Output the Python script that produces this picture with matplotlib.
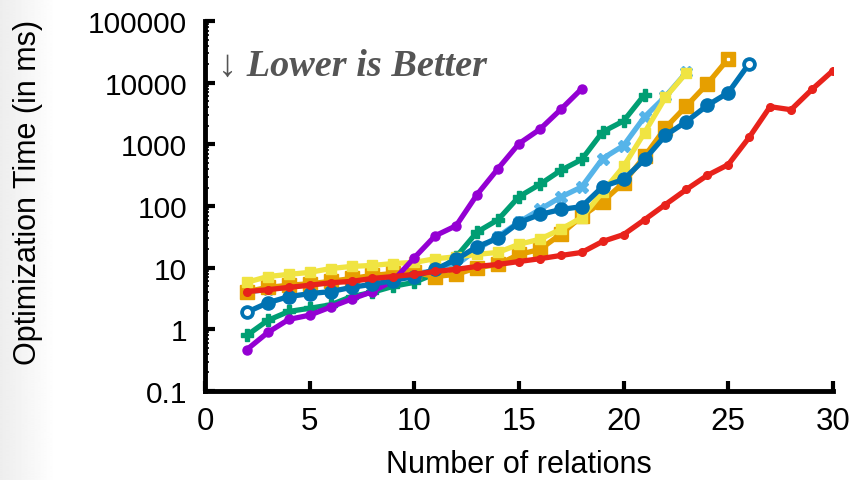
import matplotlib.pyplot as plt
from matplotlib.ticker import LogLocator, NullFormatter, FixedLocator
import numpy as np

# ---------------- DATA ----------------
n_purple = list(range(2, 19))
t_purple = [0.47, 0.89, 1.45, 1.7, 2.3, 3.1, 4.1, 6.2, 14.5, 33, 48, 154, 405, 1030, 1760, 3700, 8000]

n_green = list(range(2, 22))
t_green = [0.8, 1.4, 1.95, 2.2, 2.5, 3.4, 4.0, 5.0, 5.8, 8.0, 15, 38, 60, 142, 225, 380, 570, 1600, 2400, 6400]

n_lblue = list(range(2, 24))
t_lblue = [4.0, 4.5, 4.9, 5.3, 5.8, 6.3, 6.9, 7.5, 8.0, 9.0, 11, 20, 32, 55, 88, 140, 205, 590, 960, 2800, 6000, 14700]

n_blue = list(range(2, 27))
t_blue = [1.9, 2.7, 3.4, 3.8, 4.1, 4.8, 5.4, 6.2, 7.2, 9.4, 13.6, 22, 30, 54, 73, 88, 98,
          207, 270, 570, 1400, 2350, 4300, 6900, 20500]

n_orange = list(range(2, 26))
t_orange = [4.1, 4.8, 5.2, 5.5, 6.0, 6.7, 7.5, 8.1, 8.4, 7.2, 7.8, 10, 11.3, 16.4, 19.8, 35, 68,
            118, 240, 640, 1860, 4200, 9600, 24500]

n_yellow = list(range(2, 24))
t_yellow = [5.8, 7.2, 7.8, 8.4, 9.7, 10.5, 10.9, 11.7, 12.2, 14, 15, 16.5, 17.7, 24, 29, 42, 65,
            170, 440, 1550, 5800, 14600]

n_red = list(range(2, 31))
t_red = [4.1, 4.4, 4.8, 5.2, 5.7, 6.0, 6.7, 7.2, 7.8, 8.7, 9.4, 10.5, 11.3, 12.6, 14, 15.8, 17.7,
         26.7, 34.5, 60, 106, 186, 315, 470, 1300, 4100, 3650, 7800, 15700]

ytick_vals = [0.1, 1, 10, 100, 1000, 10000, 100000]
ytick_labels = ["0.1", "1", "10", "100", "1000", "10000", "100000"]
xtick_vals = [0, 5, 10, 15, 20, 25, 30]

plt.rcParams['font.family'] = ['Liberation Sans', 'DejaVu Sans']

fig = plt.figure(figsize=(8.56, 4.81), dpi=100)

# faint grey shade on the left edge of the picture
bg = fig.add_axes([0, 0, 1, 1], zorder=-5)
grad = np.clip(np.linspace(0.93, 2.0, 856), 0, 1)
bg.imshow(np.tile(grad, (10, 1)), cmap='gray', vmin=0, vmax=1, aspect='auto', extent=[0, 1, 0, 1])
bg.axis('off')

ax = fig.add_axes([0.2395, 0.185, 0.7335, 0.769])
ax.patch.set_alpha(0)

lw = 3.8
ax.plot(n_green, t_green, color='#009E73', lw=lw, marker='P', ms=8, zorder=2)
ax.plot(n_lblue, t_lblue, color='#56B4E9', lw=lw, marker='X', ms=8, zorder=2)
ax.plot(n_orange, t_orange, color='#E69F00', lw=lw, marker='s', ms=10, zorder=3)
ax.plot(n_yellow, t_yellow, color='#F0E442', lw=lw, marker='s', ms=7, zorder=3)
ax.plot(n_purple, t_purple, color='#9400D3', lw=lw, marker='o', ms=6.5, zorder=4)
ax.plot(n_blue, t_blue, color='#0072B2', lw=lw, marker='o', ms=9.5, zorder=4)
ax.plot(n_red, t_red, color='#E8221B', lw=lw, marker='o', ms=5.5, zorder=5)

# hollow centres on some end points
ax.plot([n_blue[0], n_blue[-1]], [t_blue[0], t_blue[-1]], 'o', color='white', ms=4, zorder=6)
ax.plot([n_orange[-1]], [t_orange[-1]], 's', color='white', ms=2, zorder=6)

ax.set_yscale('log')
ax.set_xlim(0, 30)
ax.set_ylim(0.1, 100000)
ax.set_yticks(ytick_vals)
ax.set_yticklabels(ytick_labels)
ax.yaxis.set_minor_locator(LogLocator(base=10, subs=np.arange(2, 10)))
ax.yaxis.set_minor_formatter(NullFormatter())
ax.xaxis.set_major_locator(FixedLocator(xtick_vals))

for s in ['top', 'right']:
    ax.spines[s].set_visible(False)
for s in ['left', 'bottom']:
    ax.spines[s].set_linewidth(3.5)

ax.tick_params(axis='both', which='major', direction='in', length=7, width=3)
ax.tick_params(axis='y', which='minor', direction='in', length=3, width=1.2)
ax.tick_params(axis='y', which='major', labelsize=21.5, pad=13)
ax.tick_params(axis='x', which='major', labelsize=22.5, pad=11)

ax.set_xlabel("Number of relations", fontsize=22, labelpad=9)
ax.set_ylabel("Optimization Time (in ms)", fontsize=22)
ax.yaxis.set_label_coords(-0.258, 0.54)

ax.text(0.02, 0.855, "\u2193 Lower is Better", transform=ax.transAxes,
        fontsize=27.5, color='#555555', fontstyle='italic', fontweight='bold',
        family=['Liberation Serif', 'DejaVu Serif'])

fig.savefig("out.png", dpi=100)
